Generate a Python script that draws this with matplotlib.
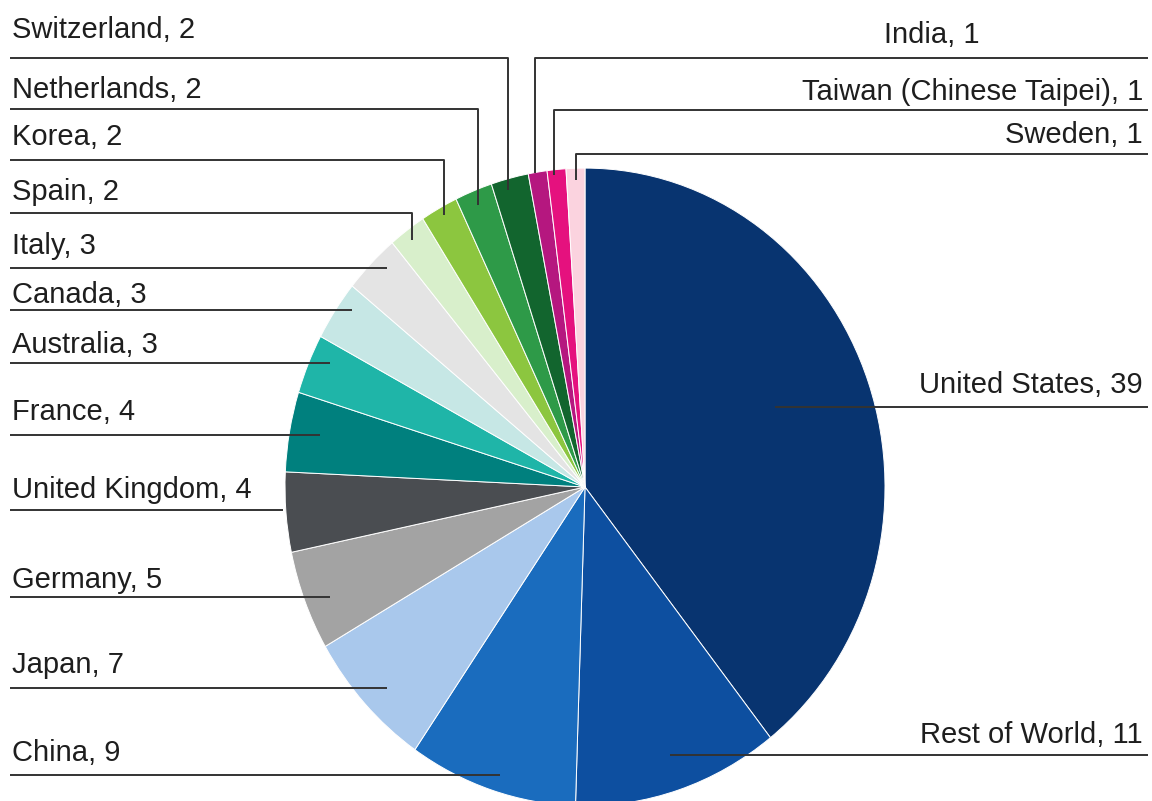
import matplotlib.pyplot as plt

W, H = 1152, 801
SY = 1.063  # the pie in the picture is a bit taller than wide

# data, clockwise from 12 o'clock
countries = ["United States", "Rest of World", "China", "Japan", "Germany",
             "United Kingdom", "France", "Australia", "Canada", "Italy", "Spain",
             "Korea", "Netherlands", "Switzerland", "India",
             "Taiwan (Chinese Taipei)", "Sweden"]
values = [39, 11, 9, 7, 5, 4, 4, 3, 3, 3, 2, 2, 2, 2, 1, 1, 1]
colors = ["#083470", "#0d4fa0", "#1a6cbe", "#a9c8ec", "#a3a3a3",
          "#4a4d51", "#00807e", "#1fb5a8", "#c6e7e5", "#e4e4e4", "#d8efcb",
          "#8cc63f", "#2e9a48", "#12652e", "#b5177f", "#e5117e", "#fbd3df"]

# label layout in pixels: (text y, line y, line end x, line end y or None, side, text x)
layout = {
    "Switzerland": (30, 58, 508, 190, "l", 12),
    "Netherlands": (90, 109, 478, 205, "l", 12),
    "Korea": (137, 160, 444, 215, "l", 12),
    "Spain": (192, 213, 412, 240, "l", 12),
    "Italy": (246, 268, 387, None, "l", 12),
    "Canada": (295, 310, 352, None, "l", 12),
    "Australia": (345, 363, 330, None, "l", 12),
    "France": (412, 435, 320, None, "l", 12),
    "United Kingdom": (490, 510, 283, None, "l", 12),
    "Germany": (580, 597, 330, None, "l", 12),
    "Japan": (665, 688, 387, None, "l", 12),
    "China": (753, 775, 500, None, "l", 12),
    "India": (35, 58, 535, 173, "r", 980),
    "Taiwan (Chinese Taipei)": (92, 110, 554, 175, "r", 1143),
    "Sweden": (135, 154, 576, 180, "r", 1143),
    "United States": (385, 407, 775, None, "r", 1143),
    "Rest of World": (735, 755, 670, None, "r", 1143),
}


def yd(ypx):
    # pixel row -> data y
    return (H - ypx) / SY


fig = plt.figure(figsize=(W / 100, H / 100), dpi=100)
ax = fig.add_axes([0, 0, 1, 1])

ax.pie(values, colors=colors, startangle=90, counterclock=False,
       center=(585, yd(487)), radius=300,
       wedgeprops=dict(edgecolor="white", linewidth=0.7))
ax.set_aspect("auto")
ax.set_xlim(0, W)
ax.set_ylim(0, H / SY)
ax.axis("off")

for name, v in zip(countries, values):
    ty, ly, xe, ye, side, tx = layout[name]
    x0 = 10 if side == "l" else 1148
    xs = [x0, xe]
    ys = [yd(ly), yd(ly)]
    if ye is not None:
        xs.append(xe)
        ys.append(yd(ye))
    ax.plot(xs, ys, color="#333333", lw=1.4, solid_capstyle="butt")
    ax.text(tx, yd(ty), f"{name}, {v}", ha="left" if side == "l" else "right",
            va="center", fontsize=21, family="Liberation Sans", color="#1e1e1e")

fig.savefig("out.png", dpi=100)
